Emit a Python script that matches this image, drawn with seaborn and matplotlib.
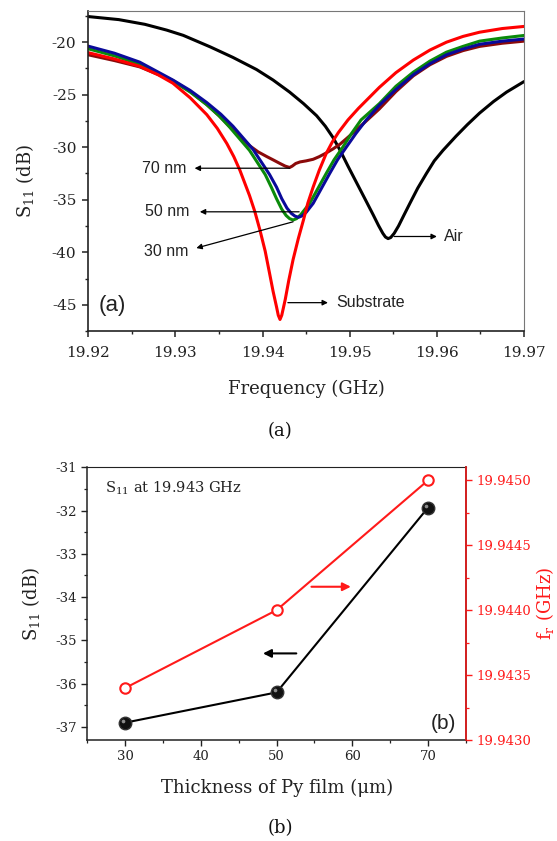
import numpy as np
import pandas as pd
import matplotlib
matplotlib.use("Agg")
import matplotlib.pyplot as plt
from matplotlib.ticker import FixedLocator, FormatStrFormatter, MultipleLocator
from matplotlib.transforms import offset_copy
import seaborn as sns

# ---------------- Panel (a) data: S11 vs frequency ----------------
air_f = [19.9200, 19.9235, 19.9265, 19.9290, 19.9309, 19.9340, 19.9366, 19.9393,
         19.9412, 19.9431, 19.9447, 19.9462, 19.9472, 19.9481, 19.9489, 19.9498,
         19.9508, 19.9518, 19.9527, 19.9533, 19.9538, 19.9541, 19.9544, 19.9547,
         19.9551, 19.9556, 19.9562, 19.9569, 19.9578, 19.9588, 19.9597, 19.9607,
         19.9622, 19.9635, 19.9649, 19.9665, 19.9680, 19.9700]
air_s = [-17.56, -17.85, -18.3, -18.85, -19.35, -20.45, -21.45, -22.6,
         -23.6, -24.75, -25.85, -27.0, -28.0, -29.1, -30.3, -31.8,
         -33.4, -35.0, -36.45, -37.45, -38.2, -38.55, -38.7, -38.6,
         -38.2, -37.5, -36.5, -35.35, -33.9, -32.5, -31.3, -30.3,
         -28.95, -27.85, -26.75, -25.65, -24.75, -23.75]

sub_f = [19.9200, 19.9230, 19.9259, 19.9280, 19.9297, 19.9317, 19.9336, 19.9348,
         19.9359, 19.9367, 19.9374, 19.9385, 19.9391, 19.9397, 19.9403, 19.9408,
         19.9412, 19.9416, 19.9418, 19.9420, 19.9422, 19.9426, 19.9430, 19.9435,
         19.9441, 19.9447, 19.9452, 19.9458, 19.9465, 19.9473, 19.9480, 19.9487,
         19.9498, 19.9510, 19.9534, 19.9553, 19.9573, 19.9592, 19.9611, 19.9630,
         19.9649, 19.9675, 19.9700]
sub_s = [-21.0, -21.6, -22.3, -23.1, -23.9, -25.3, -26.9, -28.2,
         -29.65, -30.9, -32.2, -34.6, -36.1, -37.9, -39.9, -42.0,
         -43.7, -45.2, -46.0, -46.4, -46.0, -44.5, -42.7, -40.7,
         -38.7, -36.9, -35.3, -33.8, -32.2, -30.6, -29.5, -28.6,
         -27.4, -26.3, -24.3, -22.9, -21.7, -20.75, -20.0, -19.45,
         -19.05, -18.7, -18.5]

nm30_f = [19.9200, 19.9230, 19.9259, 19.9297, 19.9317, 19.9336, 19.9350, 19.9362,
          19.9385, 19.9403, 19.9410, 19.9416, 19.9422, 19.9427, 19.9431, 19.9435,
          19.9439, 19.9444, 19.9454, 19.9463, 19.9473, 19.9482, 19.9492, 19.9502,
          19.9513, 19.9534, 19.9553, 19.9573, 19.9592, 19.9611, 19.9630, 19.9649,
          19.9675, 19.9700]
nm30_s = [-20.63, -21.3, -22.1, -23.7, -24.75, -25.95, -27.0, -28.07,
          -30.3, -32.6, -33.8, -34.9, -35.9, -36.5, -36.8, -36.93,
          -36.8, -36.4, -35.35, -34.0, -32.5, -31.2, -30.0, -28.7,
          -27.4, -25.85, -24.2, -22.85, -21.8, -20.95, -20.4, -19.9,
          -19.6, -19.36]

nm50_f = [19.9200, 19.9230, 19.9259, 19.9297, 19.9317, 19.9336, 19.9352, 19.9366,
          19.9389, 19.9408, 19.9416, 19.9422, 19.9428, 19.9433, 19.9437, 19.9441,
          19.9445, 19.9450, 19.9458, 19.9467, 19.9477, 19.9486, 19.9496, 19.9507,
          19.9519, 19.9534, 19.9553, 19.9573, 19.9592, 19.9611, 19.9630, 19.9649,
          19.9675, 19.9700]
nm50_s = [-20.38, -21.05, -21.9, -23.6, -24.6, -25.75, -26.85, -28.0,
          -30.2, -32.6, -33.8, -34.9, -35.8, -36.3, -36.55, -36.68,
          -36.55, -36.2, -35.35, -34.0, -32.5, -31.2, -30.0, -28.7,
          -27.4, -26.0, -24.5, -23.1, -22.05, -21.2, -20.65, -20.2,
          -19.9, -19.7]

nm70_f = [19.9200, 19.9230, 19.9259, 19.9297, 19.9317, 19.9336, 19.9350, 19.9362,
          19.9375, 19.9385, 19.9395, 19.9405, 19.9412, 19.9420, 19.9426, 19.9431,
          19.9434, 19.9438, 19.9443, 19.9450, 19.9458, 19.9465, 19.9473, 19.9481,
          19.9489, 19.9496, 19.9507, 19.9519, 19.9534, 19.9553, 19.9573, 19.9592,
          19.9611, 19.9630, 19.9649, 19.9675, 19.9700]
nm70_s = [-21.2, -21.75, -22.35, -23.65, -24.7, -25.95, -27.0, -28.0,
          -29.05, -29.85, -30.45, -30.9, -31.2, -31.55, -31.8, -31.93,
          -31.8, -31.55, -31.4, -31.3, -31.15, -30.9, -30.55, -30.15,
          -29.7, -29.2, -28.4, -27.5, -26.35, -24.7, -23.2, -22.15,
          -21.35, -20.8, -20.4, -20.1, -19.9]

a_xticks = [19.92, 19.93, 19.94, 19.95, 19.96, 19.97]
a_yticks = [-45, -40, -35, -30, -25, -20]

# ---------------- Panel (b) data ----------------
thickness = [30, 50, 70]
s11_at = [-36.9, -36.2, -31.93]
fr = [19.9434, 19.9440, 19.9450]
b_xticks = [30, 40, 50, 60, 70]
b_yticks = [-37, -36, -35, -34, -33, -32, -31]
b_y2ticks = [19.9430, 19.9435, 19.9440, 19.9445, 19.9450]

# ---------------- Style ----------------
sns.set_theme(style="ticks")
plt.rcParams['font.family'] = ['DejaVu Serif']
plt.rcParams['mathtext.fontset'] = 'dejavuserif'
plt.rcParams['axes.unicode_minus'] = False

RED = '#ff1a1a'
fig = plt.figure(figsize=(5.57, 8.41), dpi=100)

# ================= Panel (a) =================
ax1 = fig.add_axes([0.1585, 0.6064, 0.7823, 0.3809])
curves = [("Air", air_f, air_s), ("70 nm", nm70_f, nm70_s), ("30 nm", nm30_f, nm30_s),
          ("50 nm", nm50_f, nm50_s), ("Substrate", sub_f, sub_s)]
rows = []
for name, f, s in curves:
    for fi, si in zip(f, s):
        rows.append({"curve": name, "f": fi, "s": si})
dfa = pd.DataFrame(rows)
palette = {"Air": "black", "70 nm": "#8b0a0a", "30 nm": "#0a8a0a",
           "50 nm": "#0a0a9a", "Substrate": "#ff0000"}
sns.lineplot(data=dfa, x="f", y="s", hue="curve", palette=palette, sort=False,
             estimator=None, lw=2.2, legend=False, ax=ax1)
for ln in ax1.get_lines():
    ln.set_solid_joinstyle('round')
ax1.set_xlim(19.92, 19.97)
ax1.set_ylim(-47.5, -17.0)
ax1.xaxis.set_major_locator(FixedLocator(a_xticks))
ax1.xaxis.set_major_formatter(FormatStrFormatter('%.2f'))
ax1.xaxis.set_minor_locator(MultipleLocator(0.005))
ax1.yaxis.set_major_locator(FixedLocator(a_yticks))
ax1.yaxis.set_major_formatter(FormatStrFormatter('%d'))
ax1.yaxis.set_minor_locator(MultipleLocator(2.5))
ax1.tick_params(which='major', direction='out', length=4.5, width=1.1, labelsize=11,
                colors='#222222', pad=4)
ax1.tick_params(axis='x', which='major', pad=6)
ax1.tick_params(which='minor', direction='out', length=2.5, width=1.0, colors='#222222')
for sp in ['top', 'right']:
    ax1.spines[sp].set_color('#777777')
    ax1.spines[sp].set_linewidth(0.8)
for sp in ['left', 'bottom']:
    ax1.spines[sp].set_color('#222222')
    ax1.spines[sp].set_linewidth(1.2)
ax1.set_xlabel("Frequency (GHz)", fontsize=13, color='#222222')
ax1.set_ylabel("S$_{11}$ (dB)", fontsize=13, color='#222222')
ax1.xaxis.set_label_coords(0.5, -0.153)
ax1.yaxis.set_label_coords(-0.12, 0.47)

sans = ['Liberation Sans', 'DejaVu Sans']
arr_a = dict(arrowstyle='-|>', color='black', lw=0.9, mutation_scale=8, shrinkA=0, shrinkB=0)
ax1.annotate('', xy=(19.9322, -32.0), xytext=(19.9431, -32.0), arrowprops=arr_a)
ax1.text(19.9313, -32.0, "70 nm", ha='right', va='center', fontsize=11.5, family=sans, color='#222222')
ax1.annotate('', xy=(19.9328, -36.15), xytext=(19.9442, -36.15), arrowprops=arr_a)
ax1.text(19.9316, -36.15, "50 nm", ha='right', va='center', fontsize=11.5, family=sans, color='#222222')
ax1.annotate('', xy=(19.9324, -39.6), xytext=(19.9435, -37.1), arrowprops=arr_a)
ax1.text(19.9315, -39.9, "30 nm", ha='right', va='center', fontsize=11.5, family=sans, color='#222222')
ax1.annotate('', xy=(19.9600, -38.5), xytext=(19.9551, -38.5), arrowprops=arr_a)
ax1.text(19.9608, -38.5, "Air", ha='left', va='center', fontsize=11.5, family=sans, color='#222222')
ax1.annotate('', xy=(19.9475, -44.8), xytext=(19.9429, -44.8), arrowprops=arr_a)
ax1.text(19.9485, -44.8, "Substrate", ha='left', va='center', fontsize=11.5, family=sans, color='#222222')
ax1.text(0.024, 0.08, "(a)", transform=ax1.transAxes, ha='left', va='center',
         fontsize=16, family=sans, color='#222222')

fig.text(0.503, 1 - 431 / 841, "(a)", ha='center', va='center', fontsize=13, color='#111111')

# ================= Panel (b) =================
ax3 = fig.add_axes([0.1566, 0.1201, 0.680, 0.3243])
dfb = pd.DataFrame({"t": thickness, "s": s11_at, "fr": fr})
sns.lineplot(data=dfb, x="t", y="s", color='black', lw=1.5, marker='o', markersize=9,
             markerfacecolor='#111111', markeredgecolor='#333333', markeredgewidth=1.0,
             ax=ax3, legend=False)
# glossy highlight on the ball markers
sns.scatterplot(data=dfb, x="t", y="s", color='#9a9a9a', s=7, linewidth=0, alpha=0.9,
                transform=offset_copy(ax3.transData, fig=fig, x=-1.4, y=1.4, units='points'),
                ax=ax3, legend=False, zorder=5)
ax3.set_xlim(25, 75)
ax3.set_ylim(-37.3, -31.0)
ax3.xaxis.set_major_locator(FixedLocator(b_xticks))
ax3.xaxis.set_minor_locator(MultipleLocator(5))
ax3.yaxis.set_major_locator(FixedLocator(b_yticks))
ax3.yaxis.set_major_formatter(FormatStrFormatter('%d'))
ax3.yaxis.set_minor_locator(MultipleLocator(0.5))
ax3.tick_params(which='major', direction='out', length=4, width=1.0, labelsize=9.5, colors='#222222')
ax3.tick_params(which='minor', direction='out', length=2.2, width=0.9, colors='#222222')
for sp in ['left', 'bottom', 'top']:
    ax3.spines[sp].set_color('#222222')
    ax3.spines[sp].set_linewidth(1.1)
ax3.spines['top'].set_linewidth(0.8)
ax3.set_xlabel("Thickness of Py film (\u03bcm)", fontsize=13, color='#222222')
ax3.set_ylabel("S$_{11}$ (dB)", fontsize=13, color='#222222')
ax3.xaxis.set_label_coords(0.5, -0.143)
ax3.yaxis.set_label_coords(-0.119, 0.5)

ax4 = ax3.twinx()
sns.lineplot(data=dfb, x="t", y="fr", color=RED, lw=1.5, marker='o', markersize=7.5,
             markerfacecolor='white', markeredgecolor=RED, markeredgewidth=1.5,
             ax=ax4, legend=False)
ax4.set_ylim(19.9430, 19.94510)
ax4.yaxis.set_major_locator(FixedLocator(b_y2ticks))
ax4.yaxis.set_major_formatter(FormatStrFormatter('%.4f'))
ax4.yaxis.set_minor_locator(MultipleLocator(0.00025))
ax4.tick_params(axis='y', which='major', direction='out', length=4, width=1.0, labelsize=9.5,
                colors=RED)
ax4.tick_params(axis='y', which='minor', direction='out', length=2.2, width=0.9, colors=RED)
ax4.spines['right'].set_color(RED)
ax4.spines['right'].set_linewidth(1.1)
for sp in ['left', 'bottom', 'top']:
    ax4.spines[sp].set_visible(False)
ax4.set_ylabel("f$_{\\mathrm{r}}$ (GHz)", fontsize=13, color=RED)
ax4.yaxis.set_label_coords(1.18, 0.5)
ax4.set_xlabel("")

arr_b_r = dict(arrowstyle='-|>', color=RED, lw=1.5, mutation_scale=12, shrinkA=0, shrinkB=0)
arr_b_k = dict(arrowstyle='-|>', color='black', lw=1.5, mutation_scale=12, shrinkA=0, shrinkB=0)
ax4.annotate('', xy=(59.8, 19.94418), xytext=(54.6, 19.94418), arrowprops=arr_b_r)
ax3.annotate('', xy=(48.2, -35.30), xytext=(52.6, -35.30), arrowprops=arr_b_k)

ax3.text(27.3, -31.48, "S$_{11}$ at 19.943 GHz", ha='left', va='center', fontsize=10.5, color='#222222')
ax3.text(0.975, 0.06, "(b)", transform=ax3.transAxes, ha='right', va='center',
         fontsize=15, family=sans, color='#222222')

fig.text(0.503, 1 - 828 / 841, "(b)", ha='center', va='center', fontsize=13, color='#111111')

fig.savefig("out.png", dpi=100)
